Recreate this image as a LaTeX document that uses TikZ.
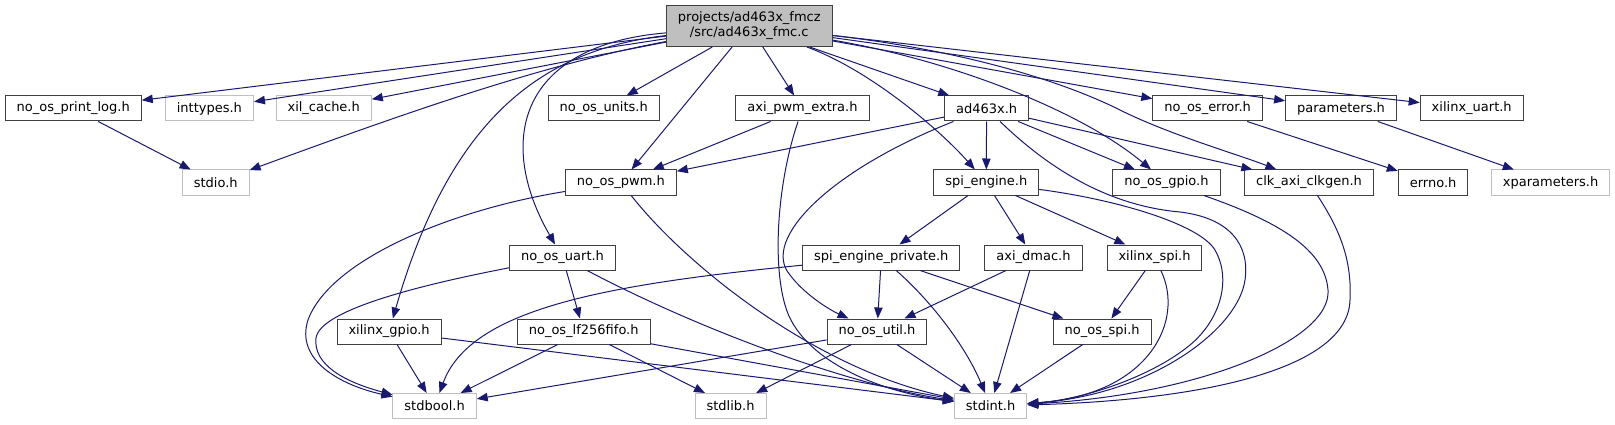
\documentclass[tikz,border=0pt]{standalone}
\usepackage{fontspec}
\setmainfont{DejaVu Sans}
\usetikzlibrary{arrows.meta}
\definecolor{edgec}{HTML}{191970}
\definecolor{bordc}{HTML}{404040}
\definecolor{gbordc}{HTML}{BFBFBF}
\definecolor{topfill}{HTML}{BFBFBF}
\tikzset{
  box/.style={draw=bordc, line width=1pt, fill=white, minimum height=25pt,
    inner xsep=11.5pt, inner ysep=0pt, font=\fontsize{13}{15}\selectfont},
  gbox/.style={box, draw=gbordc},
  topbox/.style={box, fill=topfill, minimum height=41pt, align=center},
  e/.style={draw=edgec, line width=1pt, -{Triangle[length=11pt,width=8.5pt]}}
}
\begin{document}
\begin{tikzpicture}[x=1pt,y=-1pt]
\useasboundingbox (0,0) rectangle (1615,425);
% nodes
\node[topbox] (top) at (749.3,26) {projects/ad463x\_fmcz\\/src/ad463x\_fmc.c};
\node[box]  (printlog) at (73.2,108.5) {no\_os\_print\_log.h};
\node[gbox] (inttypes) at (209.4,108.5) {inttypes.h};
\node[gbox] (xilcache) at (323.7,108.5) {xil\_cache.h};
\node[box]  (units) at (603.7,108.5) {no\_os\_units.h};
\node[box]  (pwmextra) at (802.5,108.5) {axi\_pwm\_extra.h};
\node[box]  (ad463x) at (986.6,108.5) {ad463x.h};
\node[box]  (error) at (1207.6,108.5) {no\_os\_error.h};
\node[box]  (params) at (1341,108.5) {parameters.h};
\node[box]  (xuart) at (1471.7,108.5) {xilinx\_uart.h};
\node[gbox] (stdio) at (215.7,182.5) {stdio.h};
\node[box]  (pwm) at (620.9,182.5) {no\_os\_pwm.h};
\node[box]  (spieng) at (986.3,182.5) {spi\_engine.h};
\node[box]  (gpio) at (1166.5,182.5) {no\_os\_gpio.h};
\node[box]  (clkgen) at (1309,182.5) {clk\_axi\_clkgen.h};
\node[box]  (errno) at (1433.1,182.5) {errno.h};
\node[gbox] (xparams) at (1550.6,182.5) {xparameters.h};
\node[box]  (uart) at (562.5,257.5) {no\_os\_uart.h};
\node[box]  (spipriv) at (881.3,257.5) {spi\_engine\_private.h};
\node[box]  (dmac) at (1033.5,257.5) {axi\_dmac.h};
\node[box]  (xspi) at (1154.5,257.5) {xilinx\_spi.h};
\node[box]  (xgpio) at (389.1,331.5) {xilinx\_gpio.h};
\node[box]  (lf256) at (583.7,331.5) {no\_os\_lf256fifo.h};
\node[box]  (util) at (877,331.5) {no\_os\_util.h};
\node[box]  (ospi) at (1102.2,331.5) {no\_os\_spi.h};
\node[gbox] (stdbool) at (434.6,406) {stdbool.h};
\node[gbox] (stdlib) at (730.6,406) {stdlib.h};
\node[gbox] (stdint) at (990.6,406) {stdint.h};
% edges from top
\draw[e] (top) -- (printlog);
\draw[e] (top) -- (inttypes);
\draw[e] (top) -- (xilcache);
\draw[e] (top) .. controls (540,65) and (400,115) .. (stdio);
\draw[e] (top) -- (units);
\draw[e] (top) -- (pwm);
\draw[e] (top) -- (pwmextra);
\draw[e] (top) -- (ad463x);
\draw[e] (top) .. controls (870,70) and (940,130) .. (spieng);
\draw[e] (top) -- (error);
\draw[e] (top) -- (params);
\draw[e] (top) -- (xuart);
\draw[e] (top) .. controls (950,60) and (1080,110) .. (gpio);
\draw[e] (top) .. controls (960,50) and (1060,80) .. (1120,110) .. controls (1170,135) and (1240,155) .. (clkgen);
\draw[e] (top) .. controls (520,45) and (495,140) .. (uart);
\draw[e] (top) .. controls (540,50) and (450,120) .. (xgpio);
% second level
\draw[e] (printlog) -- (stdio);
\draw[e] (pwmextra) -- (pwm);
\draw[e] (pwmextra) .. controls (778,180) and (772,260) .. (785,305) .. controls (800,360) and (880,392) .. (stdint);
\draw[e] (ad463x) -- (pwm);
\draw[e] (ad463x) -- (spieng);
\draw[e] (ad463x) -- (gpio);
\draw[e] (ad463x) -- (clkgen);
\draw[e] (ad463x) .. controls (830,170) and (760,240) .. (790,275) .. controls (805,295) and (830,310) .. (util);
\draw[e] (ad463x) .. controls (1040,160) and (1100,205) .. (1180,212) .. controls (1230,218) and (1250,245) .. (1245,280) .. controls (1238,330) and (1150,395) .. (stdint);
\draw[e] (error) -- (errno);
\draw[e] (params) -- (xparams);
% third level
\draw[e] (pwm) .. controls (450,210) and (330,260) .. (308,320) .. controls (295,360) and (340,385) .. (stdbool);
\draw[e] (pwm) .. controls (690,270) and (820,370) .. (stdint);
\draw[e] (spieng) -- (spipriv);
\draw[e] (spieng) -- (dmac);
\draw[e] (spieng) -- (xspi);
\draw[e] (spieng) .. controls (1120,200) and (1200,225) .. (1215,250) .. controls (1232,280) and (1220,320) .. (1190,345) .. controls (1150,378) and (1080,400) .. (stdint);
\draw[e] (gpio) .. controls (1280,222) and (1325,250) .. (1328,290) .. controls (1332,340) and (1200,395) .. (stdint);
\draw[e] (clkgen) .. controls (1340,230) and (1352,260) .. (1350,300) .. controls (1348,370) and (1200,400) .. (stdint);
% fourth level
\draw[e] (uart) .. controls (420,285) and (320,310) .. (316,338) .. controls (313,365) and (345,382) .. (stdbool);
\draw[e] (uart) -- (lf256);
\draw[e] (uart) .. controls (700,330) and (850,385) .. (stdint);
\draw[e] (spipriv) .. controls (600,285) and (470,310) .. (stdbool);
\draw[e] (spipriv) -- (util);
\draw[e] (spipriv) .. controls (930,300) and (965,345) .. (stdint);
\draw[e] (spipriv) -- (ospi);
\draw[e] (dmac) -- (util);
\draw[e] (dmac) -- (stdint);
\draw[e] (xspi) -- (ospi);
\draw[e] (xspi) .. controls (1185,320) and (1150,395) .. (stdint);
% fifth level
\draw[e] (xgpio) -- (stdbool);
\draw[e] (xgpio) -- (stdint);
\draw[e] (lf256) -- (stdbool);
\draw[e] (lf256) -- (stdlib);
\draw[e] (lf256) -- (stdint);
\draw[e] (util) -- (stdbool);
\draw[e] (util) -- (stdlib);
\draw[e] (util) -- (stdint);
\draw[e] (ospi) -- (stdint);
\end{tikzpicture}
\end{document}
